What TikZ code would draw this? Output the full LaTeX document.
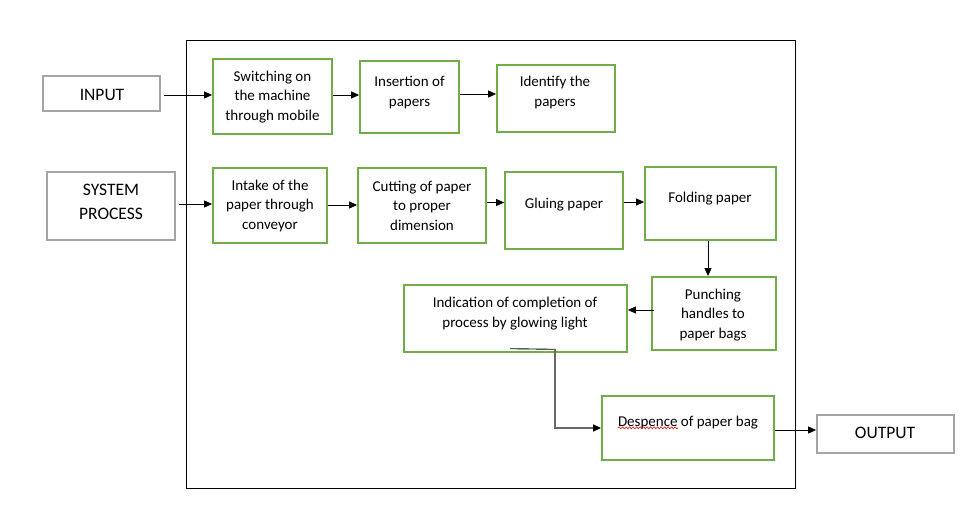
\documentclass[tikz,border=0pt]{standalone}
\usepackage{fontspec}
\setmainfont{Carlito}
\usetikzlibrary{arrows.meta,calc,decorations.pathmorphing}
\definecolor{grn}{RGB}{112,173,71}
\definecolor{gry}{RGB}{165,165,165}
\definecolor{dgry}{RGB}{105,105,105}
\begin{document}
\begin{tikzpicture}[x=1pt,y=-1pt,
  gbox/.style={draw=grn,line width=1.8pt,inner sep=0pt},
  wbox/.style={draw=gry,line width=1.8pt,inner sep=0pt},
  txt/.style={align=center,inner sep=0pt,yshift=-1.6pt,font=\fontsize{15}{19.5}\selectfont},
  big/.style={align=center,inner sep=0pt,yshift=-0.8pt,font=\fontsize{17.5}{24}\selectfont},
  arr/.style={-{Triangle[length=8pt,width=7pt]},line width=0.9pt,draw=black}]
\useasboundingbox (0,0) rectangle (973,526);
\fill[white] (0,0) rectangle (973,526);
% frame
\node[draw,line width=1pt,minimum width=609pt,minimum height=447pt,inner sep=0pt] (frame) at (490.5,264.5) {};
% side boxes
\node[wbox,minimum width=117pt,minimum height=35pt] (inp) at (101.5,93.5) {};
\node[big] (inp-t) at (102,94) {INPUT};
\node[wbox,minimum width=128pt,minimum height=68pt] (sys) at (111,206) {};
\node[big] (sys-t) at (111,201) {SYSTEM\\PROCESS};
\node[wbox,minimum width=137pt,minimum height=38pt] (out) at (885.5,434) {};
\node[big] (out-t) at (885,432.5) {OUTPUT};
% row 1
\node[gbox,minimum width=119pt,minimum height=75pt] (sw) at (272.5,96.5) {};
\node[txt] (sw-t) at (272.5,95) {Switching on\\the machine\\through mobile};
\node[gbox,minimum width=99pt,minimum height=72pt] (ins) at (409.5,97) {};
\node[txt] (ins-t) at (409.5,91) {Insertion of\\papers};
\node[gbox,minimum width=118pt,minimum height=67pt] (id) at (556,98.5) {};
\node[txt] (id-t) at (555,91) {Identify the\\papers};
% row 2
\node[gbox,minimum width=114pt,minimum height=75pt] (intake) at (270,205.5) {};
\node[txt] (intake-t) at (270,204) {Intake of the\\paper through\\conveyor};
\node[gbox,minimum width=128pt,minimum height=75pt] (cut) at (422,205.5) {};
\node[txt] (cut-t) at (422,204) {Cutting of paper\\to proper\\dimension};
\node[gbox,minimum width=118pt,minimum height=77pt] (glue) at (564,210.5) {};
\node[txt] (glue-t) at (564,203) {Gluing paper};
\node[gbox,minimum width=131pt,minimum height=73pt] (fold) at (710.5,203.5) {};
\node[txt] (fold-t) at (710,197) {Folding paper};
% row 3
\node[gbox,minimum width=124pt,minimum height=73pt] (punch) at (714,313.5) {};
\node[txt] (punch-t) at (713,313) {Punching\\handles to\\paper bags};
\node[gbox,minimum width=223pt,minimum height=67pt] (ind) at (515.5,318.5) {};
\node[txt] (ind-t) at (515,312) {Indication of completion of\\process by glowing light};
% row 4
\node[gbox,minimum width=172pt,minimum height=64pt] (desp) at (688,428) {};
\node[txt] (desp-t) at (688,421) {Despence of paper bag};
\draw[red!85!black,line width=0.6pt,decorate,decoration={snake,amplitude=0.9pt,segment length=3.5pt}] (618,427.8) -- (678,427.8);
% connectors
\draw[arr] ($(inp.east |- 0,95)+(3,0)$) -- (sw.west |- 0,95);
\draw[arr] (sw.east |- 0,95) -- (ins.west |- 0,95);
\draw[arr] (ins.east |- 0,94) -- (id.west |- 0,94);
\draw[arr] ($(sys.east |- 0,204)+(3,0)$) -- (intake.west |- 0,204);
\draw[arr] (intake.east |- 0,205) -- (cut.west |- 0,205);
\draw[arr] (cut.east |- 0,202.5) -- (glue.west |- 0,202.5);
\draw[arr] (glue.east |- 0,202) -- (fold.west |- 0,202);
\draw[arr] (fold.south -| 708,0) -- (punch.north -| 708,0);
\draw[arr] ($(punch.west |- 0,310)+(3,0)$) -- (ind.east |- 0,310);
\coordinate (bend) at (555,349.3);
\draw[line width=0.9pt] ($(ind.south)+(-5.5,-4.2)$) -- (bend);
\draw[line width=1.3pt,draw=dgry,-{Triangle[length=8pt,width=7pt,fill=black,color=black]}]
  (bend) |- (desp.west |- 0,428);
\draw[arr] (desp.east |- 0,430) -- (out.west |- 0,430);
\end{tikzpicture}
\end{document}
